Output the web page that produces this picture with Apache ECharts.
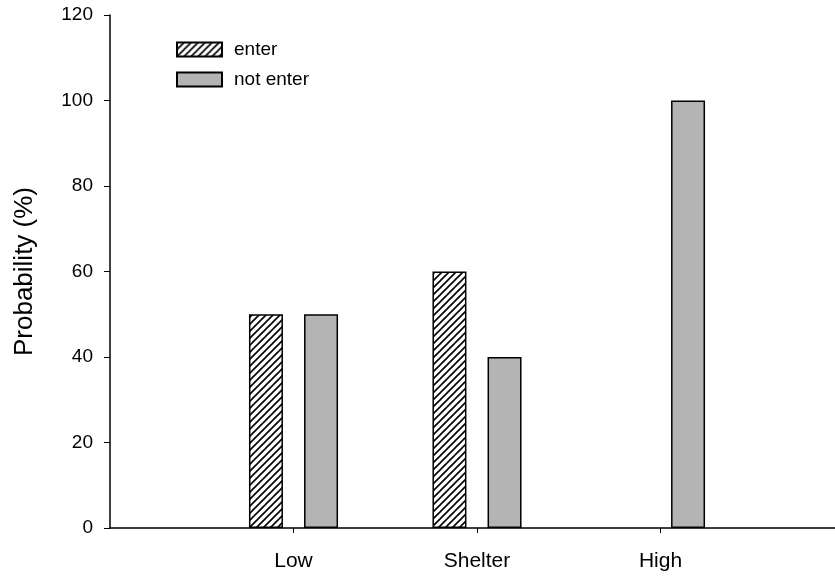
<!DOCTYPE html>
<html>
<head>
<meta charset="utf-8">
<script src="https://cdn.jsdelivr.net/npm/echarts@6/dist/echarts.min.js"></script>
<style>
  html, body { margin: 0; padding: 0; background: #fff; }
  #chart { width: 835px; height: 580px; }
</style>
</head>
<body>
<div id="chart"></div>
<script>
// ---- data ----
const categories = ['Low', 'Shelter', 'High'];
const enterValues = [50, 60, 0];
const notEnterValues = [50, 40, 100];
const seriesNames = ['enter', 'not enter'];
const yTicks = [0, 20, 40, 60, 80, 100, 120];

// padded category slots so the axis runs past the last group
const axisCats = [''].concat(categories, ['']);
const pad = arr => ['-'].concat(
  arr.map(v => v === 0 ? { value: v, itemStyle: { borderWidth: 0 } } : v),
  ['-']
);

// hatch pattern
function hatch() {
  const s = 7;
  const c = document.createElement('canvas');
  c.width = s; c.height = s;
  const g = c.getContext('2d');
  g.fillStyle = '#fff';
  g.fillRect(0, 0, s, s);
  g.strokeStyle = '#000';
  g.lineWidth = 1.6;
  g.beginPath();
  g.moveTo(-1, s + 1); g.lineTo(s + 1, -1);
  g.moveTo(-1, 1); g.lineTo(1, -1);
  g.moveTo(s - 1, s + 1); g.lineTo(s + 1, s - 1);
  g.stroke();
  return c;
}

const chart = echarts.init(document.getElementById('chart'), null, { renderer: 'canvas' });
const font = 'Liberation Sans, Arial, sans-serif';

chart.setOption({
  animation: false,
  backgroundColor: '#fff',
  textStyle: { fontFamily: font },
  grid: { left: 110, right: -9, top: 15, bottom: 52, containLabel: false, outerBoundsMode: 'none' },
  legend: {
    orient: 'vertical',
    left: 171, top: 35,
    itemWidth: 45, itemHeight: 14, itemGap: 11,
    icon: 'rect',
    data: seriesNames,
    textStyle: { fontSize: 19, color: '#000', fontFamily: font, padding: [0, 0, 0, 7] }
  },
  xAxis: {
    type: 'category',
    data: axisCats,
    boundaryGap: false,
    axisLine: { lineStyle: { color: '#000', width: 1.5 } },
    axisTick: {
      show: true, length: 5, inside: false,
      interval: (i) => i >= 1 && i <= categories.length,
      lineStyle: { color: '#000', width: 1 }
    },
    axisLabel: {
      interval: 0, fontSize: 21, color: '#000', margin: 23, fontFamily: font
    },
    splitLine: { show: false }
  },
  yAxis: {
    type: 'value',
    min: yTicks[0], max: yTicks[yTicks.length - 1], interval: 20,
    name: 'Probability (%)',
    nameLocation: 'middle',
    nameGap: 72,
    nameRotate: 90,
    nameTextStyle: { fontSize: 26, color: '#000', fontFamily: font },
    axisLine: { show: true, lineStyle: { color: '#000', width: 1.5 } },
    axisTick: { show: true, length: 6, inside: false, lineStyle: { color: '#000', width: 1 } },
    axisLabel: { fontSize: 19, color: '#000', margin: 17, fontFamily: font },
    splitLine: { show: false }
  },
  series: [
    {
      name: seriesNames[0],
      type: 'bar',
      data: pad(enterValues),
      barWidth: 34,
      barGap: '62%',
      itemStyle: {
        color: { image: hatch(), repeat: 'repeat' },
        borderColor: '#000', borderWidth: 1.5
      }
    },
    {
      name: seriesNames[1],
      type: 'bar',
      data: pad(notEnterValues),
      barWidth: 34,
      barGap: '62%',
      itemStyle: { color: '#b4b4b4', borderColor: '#000', borderWidth: 1.5 }
    }
  ]
});
</script>
</body>
</html>
